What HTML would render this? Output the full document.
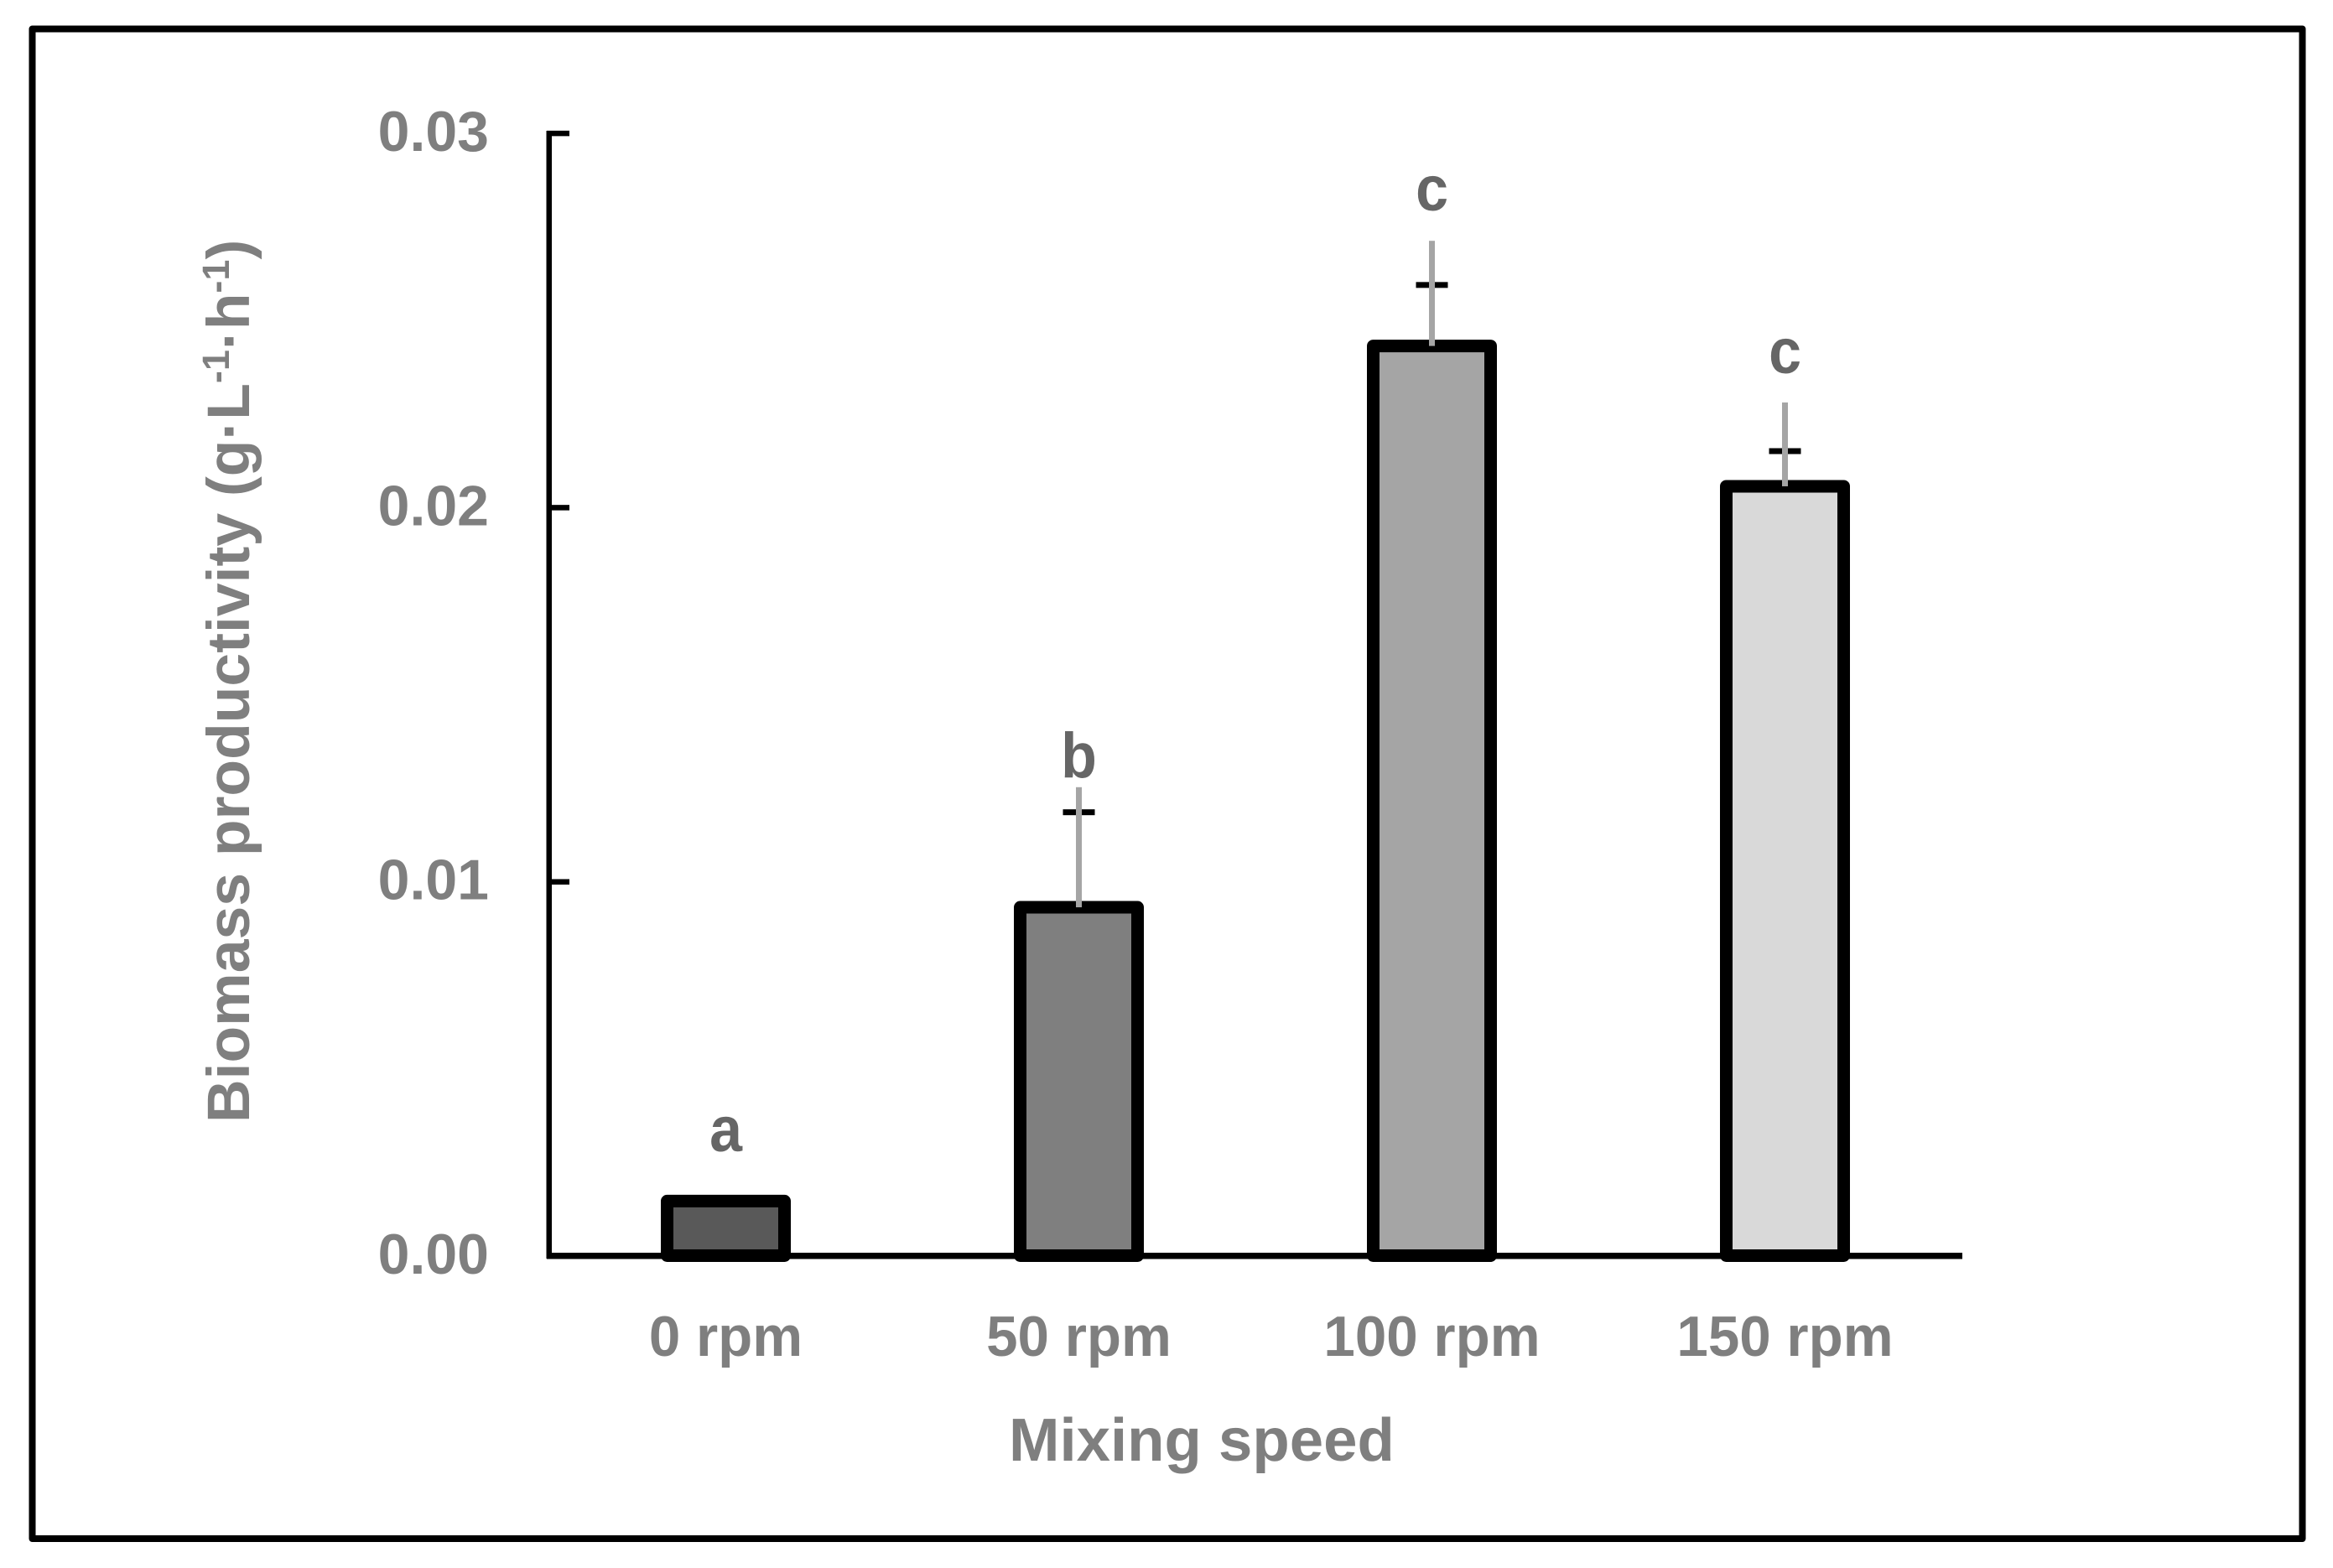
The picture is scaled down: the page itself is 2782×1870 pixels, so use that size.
<!DOCTYPE html>
<html lang="en">
<head>
<meta charset="utf-8">
<title>Biomass productivity by mixing speed</title>
<style>
html,body{margin:0;padding:0;background:#fff;}
svg{display:block;}
text{font-family:"Liberation Sans",sans-serif;font-weight:bold;}
</style>
</head>
<body>
<svg id="chart" xmlns="http://www.w3.org/2000/svg" width="2782" height="1870" viewBox="0 0 2782 1870">
  <rect x="0" y="0" width="2782" height="1870" fill="#ffffff"/>
  <rect x="38.5" y="34.5" width="2707" height="1800.5" fill="none" stroke="#000000" stroke-width="8" stroke-linejoin="round"/>
  <g id="ticks-layer"></g>
  <rect x="651.5" y="156" width="6.5" height="1345" fill="#000000"/>
  <rect x="652" y="1494" width="1688" height="7.5" fill="#000000"/>
  <g id="bars-layer"></g>
  <g id="errors-layer"></g>
  <g id="letters-layer"></g>
  <g id="xlabels-layer"></g>
  <text x="1203" y="1742" font-size="72.6" fill="#7f7f7f">Mixing speed</text>
  <text transform="translate(297,1339) rotate(-90)" font-size="71.5" fill="#7f7f7f">Biomass productivity (g·L<tspan font-size="45" dy="-24">-1</tspan><tspan dy="24">·h</tspan><tspan font-size="45" dy="-24">-1</tspan><tspan dy="24">)</tspan></text>
</svg>
<script>
var categories = ['0 rpm', '50 rpm', '100 rpm', '150 rpm'];
var barValues = [0.00147, 0.00932, 0.02432, 0.02057];
var errorTopValues = [null, 0.01253, 0.02713, 0.02281];
var errorCapValues = [null, 0.01186, 0.02595, 0.02151];
var letters = ['a', 'b', 'c', 'c'];
var letterValues = [0.0028, 0.01279, 0.02794, 0.02359];
var barColors = ['#595959', '#7f7f7f', '#a5a5a5', '#d9d9d9'];
var tickValues = [0, 0.01, 0.02, 0.03];
var tickLabels = ['0.00', '0.01', '0.02', '0.03'];

var SVG_NS = 'http://www.w3.org/2000/svg';

function yScale(v) {
  return 1498 - v * 44630;
}
function xScale(i) {
  return 655 + 421 * (i + 0.5);
}
function make(tag, attrs, parentId) {
  var el = document.createElementNS(SVG_NS, tag);
  for (var k in attrs) {
    el.setAttribute(k, attrs[k]);
  }
  document.getElementById(parentId).appendChild(el);
  return el;
}

tickValues.forEach(function (v, i) {
  var y = yScale(v);
  var tick = make('rect', { x: 652, y: y - 3.25, width: 27, height: 6.5, fill: '#000000' }, 'ticks-layer');
  
  
  var label = make('text', { x: 583, y: y + 21, 'font-size': 68, fill: '#7f7f7f', 'text-anchor': 'end' }, 'ticks-layer');
  label.textContent = tickLabels[i];
  
  
});

categories.forEach(function (name, i) {
  var cx = xScale(i);
  var top = yScale(barValues[i]);
  var base = yScale(0);

  var bar = make('rect', {
    x: cx - 70,
    y: top,
    width: 140,
    height: Math.max(0, base - top - 0.5),
    fill: barColors[i],
    stroke: '#000000',
    'stroke-width': 15,
    'stroke-linejoin': 'round'
  }, 'bars-layer');
  
  

  if (errorTopValues[i] !== null) {
    var cap = make('rect', {
      x: cx - 19,
      y: yScale(errorCapValues[i]) - 3.5,
      width: 38,
      height: 7,
      fill: '#000000'
    }, 'errors-layer');
    
    

    var errTop = yScale(errorTopValues[i]);
    var stem = make('rect', {
      x: cx - 3.5,
      y: errTop,
      width: 7,
      height: Math.max(0, top - errTop),
      fill: '#a5a5a5'
    }, 'errors-layer');
    
    
  }

  var letter = make('text', {
    transform: 'translate(' + cx + ',' + yScale(letterValues[i]) + ') scale(0.92,1)',
    'font-size': 76,
    fill: '#666666',
    'text-anchor': 'middle'
  }, 'letters-layer');
  letter.textContent = letters[i];
  
  

  var xLabel = make('text', {
    transform: 'translate(' + cx + ',1617) scale(0.99,1)',
    'font-size': 68,
    fill: '#7f7f7f',
    'text-anchor': 'middle'
  }, 'xlabels-layer');
  xLabel.textContent = name;
  
  
});
</script>
</body>
</html>
